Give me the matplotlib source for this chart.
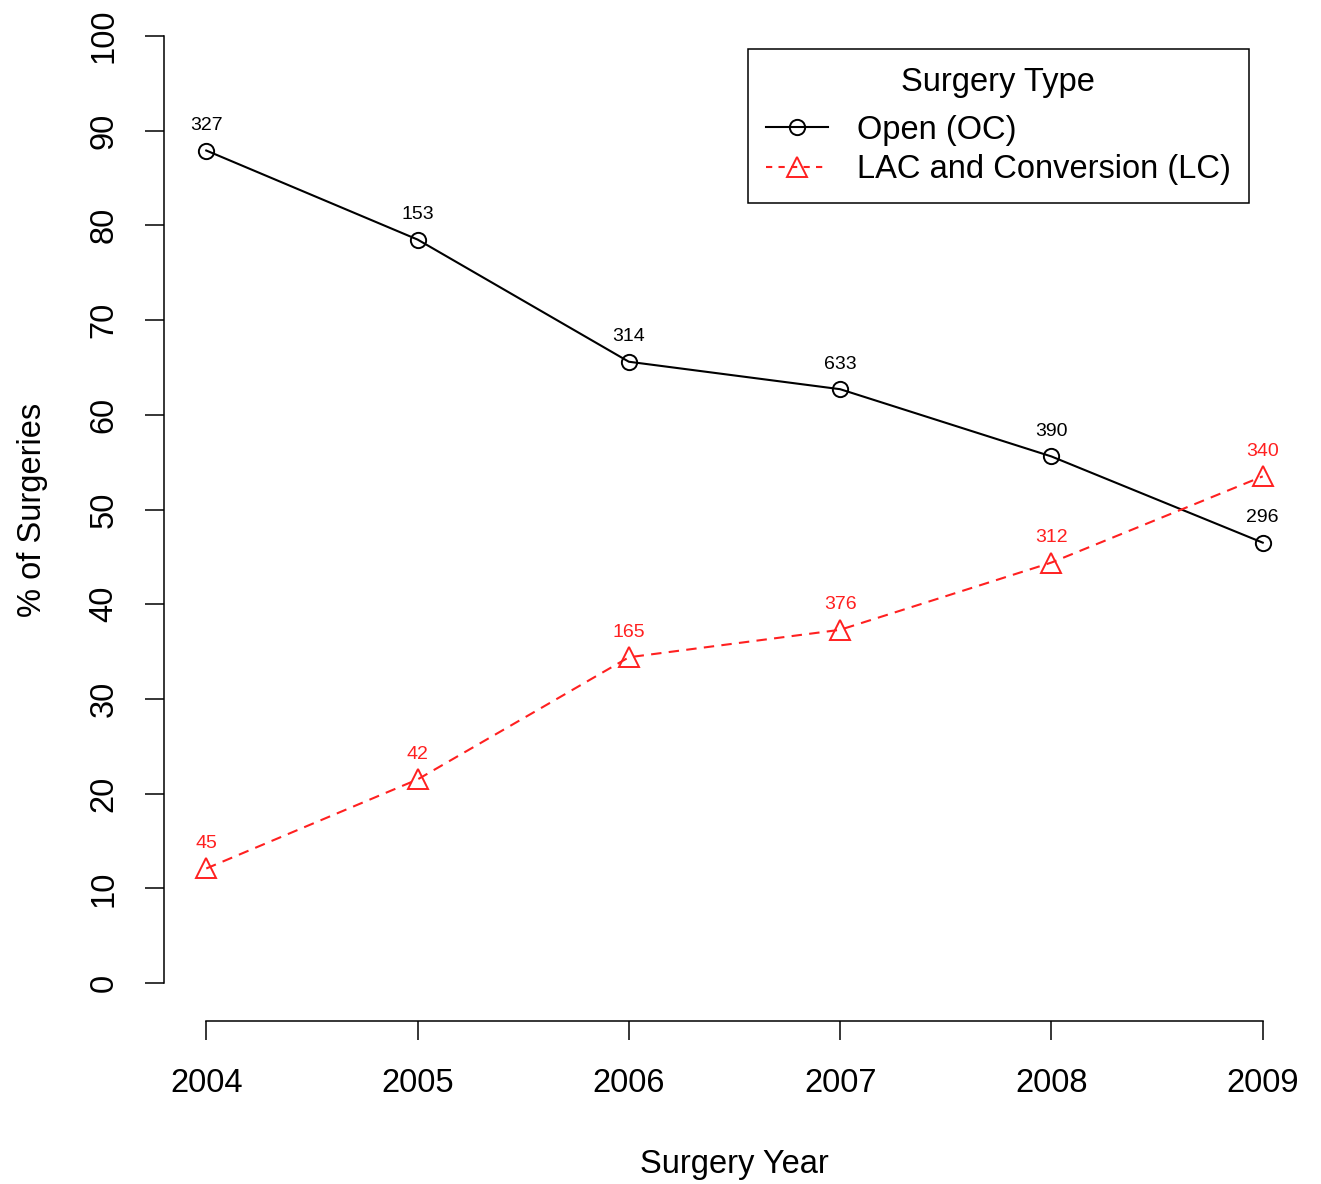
import matplotlib
matplotlib.use("Agg")
import matplotlib.pyplot as plt
from matplotlib.lines import Line2D

plt.rcParams['font.family'] = ['Liberation Sans', 'DejaVu Sans']

years = [2004, 2005, 2006, 2007, 2008, 2009]
open_pct = [87.9, 78.5, 65.6, 62.7, 55.6, 46.5]
lc_pct = [12.1, 21.5, 34.4, 37.3, 44.4, 53.5]
open_n = ['327', '153', '314', '633', '390', '296']
lc_n = ['45', '42', '165', '376', '312', '340']
yticks = [0, 10, 20, 30, 40, 50, 60, 70, 80, 90, 100]

W, H = 1321, 1184
fig = plt.figure(figsize=(W / 100, H / 100), dpi=100)
ax = fig.add_axes([164 / W, 1 - 1021 / H, (1305 - 164) / W, (1021 + 2) / H])

red = '#ff2020'
ax.plot(years, open_pct, color='black', lw=1.5, marker='o', ms=11,
        mfc='none', mec='black', mew=1.4)
ax.plot(years, lc_pct, color=red, lw=1.5, ls=(0, (5, 3.5)), marker='^',
        ms=14, mfc='none', mec=red, mew=1.4)

for x, y, s in zip(years, open_pct, open_n):
    ax.annotate(s, (x, y), xytext=(0, 12), textcoords='offset points',
                ha='center', va='bottom', fontsize=14, color='black')
for x, y, s in zip(years, lc_pct, lc_n):
    ax.annotate(s, (x, y), xytext=(0, 12), textcoords='offset points',
                ha='center', va='bottom', fontsize=14, color=red)

ax.set_xlim(2003.8, 2009.2)
ax.set_ylim(-4, 104)
ax.set_xticks(years)
ax.set_xticklabels([str(y) for y in years])
ax.set_yticks(yticks)
ax.set_yticklabels([str(v) for v in yticks], rotation=90, va='center')

for side in ['top', 'right']:
    ax.spines[side].set_visible(False)
ax.spines['left'].set_bounds(0, 100)
ax.spines['bottom'].set_bounds(2004, 2009)
ax.spines['left'].set_linewidth(1.1)
ax.spines['bottom'].set_linewidth(1.1)
ax.tick_params(axis='both', length=14, width=1.1, labelsize=23.5)
ax.tick_params(axis='x', pad=20)
ax.tick_params(axis='y', pad=18)

ax.set_xlabel('Surgery Year', fontsize=23.5, labelpad=36)
ax.set_ylabel('% of Surgeries', fontsize=23.5, labelpad=29)

handles = [
    Line2D([], [], color='black', lw=1.5, marker='o', ms=11, mfc='none', mew=1.4),
    Line2D([], [], color=red, lw=1.5, ls=(0, (3, 3)), marker='^', ms=14,
           mfc='none', mew=1.4),
]
leg = ax.legend(handles, ['Open (OC)', 'LAC and Conversion (LC)'],
                title='Surgery Type', loc='upper right',
                bbox_to_anchor=(1249 / W, 1 - 49 / H), bbox_transform=fig.transFigure,
                borderaxespad=0, fancybox=False, framealpha=1, edgecolor='black',
                fontsize=23.5, title_fontsize=23.5, handlelength=1.9,
                handletextpad=0.9, labelspacing=0.27, borderpad=0.55)
leg.get_frame().set_linewidth(1.1)
leg._legend_box.sep = 12

fig.savefig('out.png', dpi=100)
